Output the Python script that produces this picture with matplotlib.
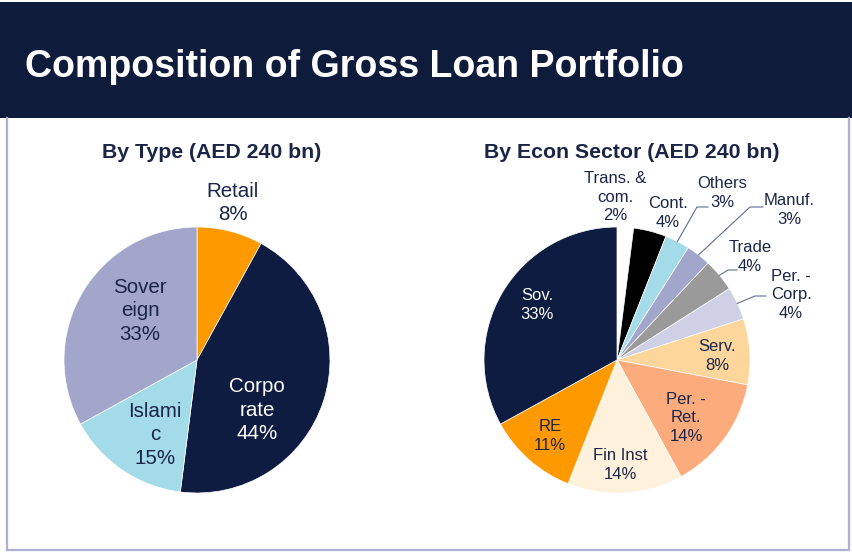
import matplotlib.pyplot as plt
from matplotlib.patches import Rectangle
from matplotlib.lines import Line2D
import numpy as np

plt.rcParams['font.family'] = ['Liberation Sans', 'DejaVu Sans']

W, H = 852, 554

NAVY = '#0f1c42'
TEXT = '#1b2548'

# --- Data ---
type_labels = ['Retail', 'Corpo\nrate', 'Islami\nc', 'Sover\neign']
type_values = [8, 44, 15, 33]
type_colors = ['#ff9900', NAVY, '#a3dbe8', '#a2a6ca']

sector_labels = ['Trans. &\ncom.', 'Cont.', 'Others', 'Manuf.', 'Trade',
                 'Per. -\nCorp.', 'Serv.', 'Per. -\nRet.', 'Fin Inst', 'RE', 'Sov.']
sector_values = [2, 4, 3, 3, 4, 4, 8, 14, 14, 11, 33]
sector_colors = ['#ffffff', '#000000', '#a3dbe8', '#a2a6ca', '#9a9a9a',
                 '#cfd0e6', '#fdd69c', '#fcab7c', '#fff1dc', '#ff9900', NAVY]


def fx(px):
    return px / W


def fy(py):
    return 1 - py / H


def pie_axes(fig, cx, cy, r):
    ax = fig.add_axes([fx(cx - r), fy(cy + r), 2 * r / W, 2 * r / H])
    ax.set_xlim(-1, 1)
    ax.set_ylim(-1, 1)
    ax.axis('off')
    return ax


def to_data(px, py, cx, cy, r):
    return (px - cx) / r, (cy - py) / r


fig = plt.figure(figsize=(W / 100, H / 100), dpi=100)

# header band
fig.patches.append(Rectangle((0, fy(118)), 1, (118 - 2) / H, transform=fig.transFigure,
                             facecolor='#0f1b3a', edgecolor='none', zorder=0))
fig.text(fx(25), fy(77), 'Composition of Gross Loan Portfolio', color='white',
         fontsize=27, fontweight='bold', va='baseline', ha='left')

# frame around content area
frame_col = '#aeb0d4'
for xs, ys in [([7, 7], [118, 550]), ([7, 849], [550, 550]), ([849, 849], [118, 550])]:
    fig.lines.append(Line2D([fx(x) for x in xs], [fy(y) for y in ys], transform=fig.transFigure,
                            color=frame_col, linewidth=1.6))

fig.text(fx(212), fy(158), 'By Type (AED 240 bn)', color=TEXT, fontsize=15.3,
         fontweight='bold', ha='center', va='baseline')
fig.text(fx(632), fy(158), 'By Econ Sector (AED 240 bn)', color=TEXT, fontsize=15.3,
         fontweight='bold', ha='center', va='baseline')

# --- By type pie ---
cx1, cy1, r1 = 197, 360, 133
ax1 = pie_axes(fig, cx1, cy1, r1)
ax1.pie(type_values, colors=type_colors, startangle=90, counterclock=False, radius=1,
        wedgeprops=dict(edgecolor='white', linewidth=0.5))
ax1.set_xlim(-1, 1)
ax1.set_ylim(-1, 1)

type_pos = [(233, 203), (257, 410), (155, 435), (140, 311)]
type_text_col = [TEXT, 'white', TEXT, TEXT]
for lab, v, (px, py), c in zip(type_labels, type_values, type_pos, type_text_col):
    x, y = to_data(px, py, cx1, cy1, r1)
    ax1.text(x, y, f'{lab}\n{v}%', ha='center', va='center', color=c, fontsize=14.8,
             linespacing=1.28, clip_on=False)

# --- By econ sector pie ---
cx2, cy2, r2 = 617, 360, 133
ax2 = pie_axes(fig, cx2, cy2, r2)
wedges, _ = ax2.pie(sector_values, colors=sector_colors, startangle=90, counterclock=False,
                    radius=1, wedgeprops=dict(edgecolor='white', linewidth=0.5))
ax2.set_xlim(-1, 1)
ax2.set_ylim(-1, 1)

sector_pos = [(615, 197), (668, 213), (722, 193), (789, 210), (750, 257),
              (791, 295), (717, 356), (686, 418), (620, 465), (550, 436), (537, 305)]
sector_text_col = [TEXT] * 10 + ['white']
for lab, v, (px, py), c in zip(sector_labels, sector_values, sector_pos, sector_text_col):
    x, y = to_data(px, py, cx2, cy2, r2)
    ax2.text(x, y, f'{lab}\n{v}%', ha='center', va='center', color=c, fontsize=12,
             linespacing=1.3, clip_on=False)

# leader lines: wedge edge -> elbow -> short horizontal run to the label
leaders = {2: [(697, 207), (708, 207)], 3: [(750, 207), (763, 207)],
           4: [(728, 270), (737, 270)], 5: [(755, 296), (766, 296)]}
for i, pts in leaders.items():
    w = wedges[i]
    ang = np.deg2rad((w.theta1 + w.theta2) / 2)
    xs = [np.cos(ang)] + [to_data(px, py, cx2, cy2, r2)[0] for px, py in pts]
    ys = [np.sin(ang)] + [to_data(px, py, cx2, cy2, r2)[1] for px, py in pts]
    ax2.plot(xs, ys, color='#5f6f90', linewidth=0.8, clip_on=False)

fig.savefig('out.png', dpi=100)
